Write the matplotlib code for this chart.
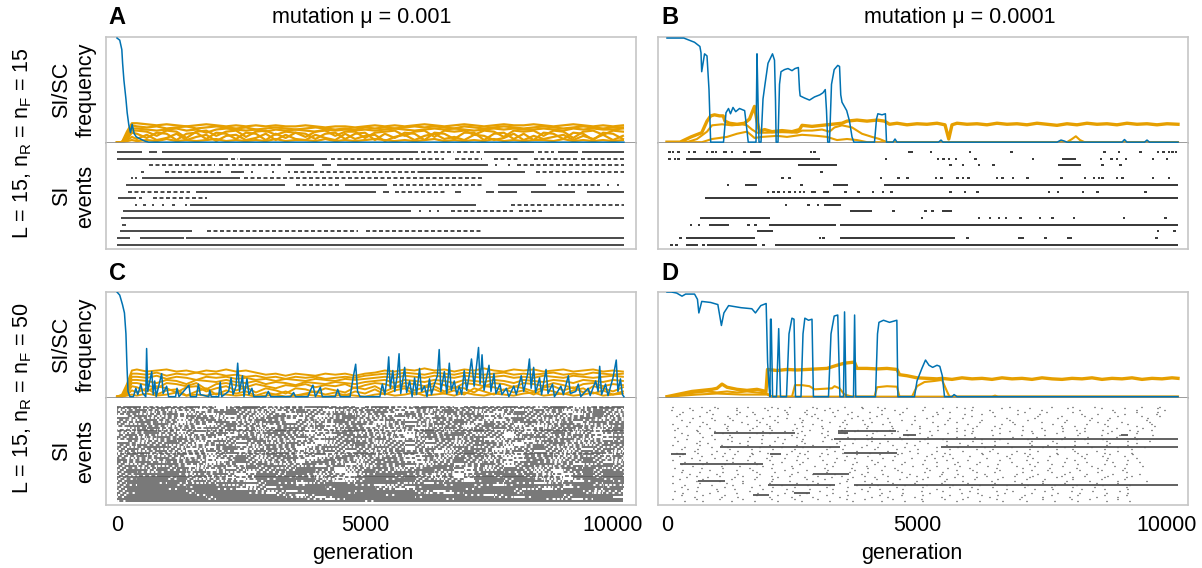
import matplotlib
matplotlib.use('Agg')
import matplotlib.pyplot as plt

plt.rcParams['font.family'] = ['Liberation Sans', 'DejaVu Sans']
plt.rcParams['mathtext.fontset'] = 'custom'
plt.rcParams['mathtext.rm'] = 'Liberation Sans'

BLUE = '#0072B2'
ORANGE = '#E69F00'
END_GEN = 10220

# ---------------- data ----------------
TICKS = [0, 5000, 10000]
TITLES = ['mutation \u03bc = 0.001', 'mutation \u03bc = 0.0001']
ROW_LABELS = [r'L = 15, n$_\mathregular{R}$ = n$_\mathregular{F}$ = 15',
              r'L = 15, n$_\mathregular{R}$ = n$_\mathregular{F}$ = 50']

GRID_AC = [0, 100, 200, 300] + list(range(400, 10201, 200))

# Panel A
A_BLUE = [(0, 0.99), (55, 0.97), (97, 0.88), (113, 0.75), (139, 0.59), (180, 0.41), (205, 0.28),
          (239, 0.16), (272, 0.09), (305, 0.17), (347, 0.08), (389, 0.05), (472, 0.03), (560, 0.01),
          (640, 0.0), (10220, 0.0)]
A_ORANGE = [
 [0, 0, 0.10, 0.18, 0.18, 0.17, 0.16, 0.17, 0.16, 0.15, 0.16, 0.17, 0.16, 0.15,
  0.16, 0.15, 0.16, 0.15, 0.16, 0.15, 0.15, 0.16, 0.15, 0.14, 0.15, 0.15, 0.14, 0.15, 0.16, 0.15, 0.16, 0.15, 0.16, 0.17,
  0.16, 0.15, 0.16, 0.17, 0.16, 0.15, 0.16, 0.17, 0.16, 0.16, 0.17, 0.16, 0.15, 0.16, 0.17, 0.16, 0.15, 0.16, 0.15, 0.16],
 [0, 0, 0.07, 0.16, 0.15, 0.14, 0.15, 0.13, 0.14, 0.15, 0.13, 0.14, 0.15, 0.14,
  0.13, 0.14, 0.12, 0.13, 0.14, 0.13, 0.12, 0.13, 0.14, 0.13, 0.12, 0.13, 0.12, 0.14, 0.13, 0.14, 0.13, 0.14, 0.15, 0.14,
  0.15, 0.14, 0.13, 0.15, 0.14, 0.13, 0.14, 0.15, 0.14, 0.13, 0.14, 0.15, 0.14, 0.13, 0.14, 0.15, 0.14, 0.13, 0.14, 0.14],
 [0, 0, 0.05, 0.13, 0.13, 0.12, 0.11, 0.12, 0.13, 0.11, 0.12, 0.09, 0.12, 0.13,
  0.12, 0.11, 0.12, 0.10, 0.12, 0.11, 0.12, 0.11, 0.10, 0.12, 0.11, 0.12, 0.11, 0.12, 0.11, 0.12, 0.13, 0.12, 0.11, 0.12,
  0.13, 0.12, 0.13, 0.12, 0.11, 0.12, 0.13, 0.12, 0.13, 0.12, 0.12, 0.13, 0.12, 0.11, 0.13, 0.12, 0.13, 0.12, 0.12, 0.13],
 [0, 0, 0.04, 0.11, 0.11, 0.10, 0.06, 0.11, 0.10, 0.04, 0.10, 0.11, 0.06, 0.10,
  0.11, 0.05, 0.10, 0.11, 0.07, 0.10, 0.09, 0.05, 0.10, 0.11, 0.06, 0.10, 0.10, 0.04, 0.09, 0.10, 0.11, 0.06, 0.10, 0.11,
  0.05, 0.11, 0.10, 0.11, 0.07, 0.11, 0.10, 0.05, 0.11, 0.10, 0.11, 0.06, 0.11, 0.10, 0.04, 0.10, 0.11, 0.07, 0.11, 0.10],
 [0, 0, 0.03, 0.09, 0.08, 0.04, 0.09, 0.08, 0.02, 0.08, 0.09, 0.03, 0.09, 0.08,
  0.03, 0.09, 0.08, 0.02, 0.08, 0.04, 0.09, 0.08, 0.03, 0.08, 0.09, 0.03, 0.08, 0.09, 0.02, 0.08, 0.04, 0.09, 0.08, 0.02,
  0.09, 0.08, 0.03, 0.09, 0.09, 0.02, 0.08, 0.09, 0.03, 0.08, 0.02, 0.09, 0.08, 0.03, 0.09, 0.08, 0.02, 0.09, 0.08, 0.03],
 [0, 0, 0.02, 0.05, 0.03, 0.07, 0.02, 0.04, 0.08, 0.02, 0.05, 0.07, 0.01, 0.06,
  0.07, 0.02, 0.04, 0.08, 0.02, 0.07, 0.03, 0.02, 0.07, 0.04, 0.02, 0.08, 0.03, 0.06, 0.07, 0.01, 0.05, 0.07, 0.02, 0.06,
  0.08, 0.03, 0.05, 0.02, 0.07, 0.06, 0.02, 0.04, 0.08, 0.02, 0.06, 0.03, 0.05, 0.07, 0.02, 0.06, 0.03, 0.07, 0.02, 0.06],
 [0, 0, 0.01, 0.02, 0.01, 0.02, 0.01, 0.03, 0.01, 0.02, 0.01, 0.02, 0.03, 0.01,
  0.02, 0.01, 0.02, 0.01, 0.03, 0.01, 0.02, 0.02, 0.01, 0.03, 0.01, 0.02, 0.01, 0.02, 0.03, 0.02, 0.01, 0.02, 0.01, 0.02,
  0.03, 0.01, 0.02, 0.01, 0.02, 0.01, 0.03, 0.01, 0.02, 0.01, 0.02, 0.02, 0.01, 0.03, 0.01, 0.02, 0.01, 0.02, 0.01, 0.02],
]
A_EVENTS = [
 "0-513 655-805 905-6062 6120-6800d 6860-7310d 7400-8400 8480-8820d 8900-9300 9380-10220",
 "0-2230 2300-2430d 2480-3300 3480-4230 4310-6600d 6814-7357d 7604-8105d 8399-9275d 9358-10220d",
 "640-1975d 2057-3309d 3392-3976 4142-4309 4434-7480 7648 7900 8064-10220d",
 "513 973-2140d 2308-2558 2725 3142 3475 3559-6062d 6062-8232 8440-10220d",
 "305 389 513-2474 2558-7397d",
 "180-3392 3600-4476d 4601-5436 5561-7397d 7690-8649 8899-9734d 9900 10109",
 "222-1474d 1599-5228 5353-5478 5603-6646d 6813-6940 7440-7607 7690-8066 8357-9233 9483-10220",
 "30-389 472 722-1807d",
 "389 556 722 931 1140 1390 1474-7230 7940-10220d",
 "122-5937 6104 6312 6479 6730-7982d 8107-8566d",
 "80-10220",
 "97-180",
 "55-1515 1807-4852d 5019-7355d",
 "0-264 472-1348 1390-10220",
 "0-10220",
]

# Panel B
B_BLUE = [(0, 0.99), (336, 0.99), (550, 0.95), (658, 0.91), (680, 0.85), (694, 0.67), (751, 0.84), (800, 0.82),
          (840, 0.5), (873, 0.0), (1130, 0.0), (1180, 0.28), (1230, 0.32), (1270, 0.27), (1320, 0.33), (1374, 0.29),
          (1450, 0.32), (1553, 0.30), (1590, 0.15), (1625, 0.0), (1780, 0.0), (1800, 0.84), (1820, 0.4), (1840, 0.0),
          (1880, 0.0), (1920, 0.41), (1960, 0.55), (2020, 0.75), (2070, 0.80), (2110, 0.84), (2150, 0.78), (2170, 0.4),
          (2183, 0.0), (2220, 0.0), (2250, 0.55), (2280, 0.67), (2350, 0.69), (2420, 0.70), (2500, 0.68), (2560, 0.70),
          (2627, 0.71), (2650, 0.5), (2663, 0.44), (2750, 0.42), (2850, 0.40), (2950, 0.43), (3057, 0.45), (3120, 0.47),
          (3165, 0.50), (3190, 0.3), (3215, 0.0), (3250, 0.0), (3290, 0.55), (3344, 0.69), (3415, 0.73), (3451, 0.72),
          (3475, 0.45), (3500, 0.38), (3594, 0.30), (3650, 0.2), (3700, 0.05), (3737, 0.0), (4150, 0.0), (4190, 0.22),
          (4217, 0.27), (4300, 0.26), (4368, 0.27), (4390, 0.0), (4520, 0.0), (4560, 0.03), (4600, 0.0), (5430, 0.0),
          (5480, 0.02), (5520, 0.0), (7800, 0.0), (7880, 0.02), (7950, 0.01), (8000, 0.0), (9100, 0.0), (9150, 0.025),
          (9200, 0.0), (9550, 0.0), (9600, 0.02), (9650, 0.0), (10220, 0.0)]
B_ORANGE = [
 [(0, 0), (260, 0), (480, 0.05), (695, 0.09), (800, 0.2), (874, 0.25), (950, 0.26), (1050, 0.25), (1124, 0.25),
  (1160, 0.2), (1250, 0.18), (1400, 0.17), (1550, 0.18), (1650, 0.22), (1750, 0.34), (1800, 0.2), (1850, 0.1),
  (1950, 0.12), (2100, 0.1), (2300, 0.11), (2500, 0.1), (2650, 0.12), (2700, 0.16), (2900, 0.15), (3100, 0.16),
  (3300, 0.17), (3500, 0.18), (3600, 0.2), (3800, 0.21), (4000, 0.2), (4200, 0.21), (4350, 0.2), (4450, 0.17),
  (4600, 0.18), (4800, 0.165), (5000, 0.175), (5200, 0.17), (5400, 0.18), (5560, 0.165), (5635, 0.03), (5700, 0.165),
  (5800, 0.18), (6000, 0.17), (6200, 0.175), (6400, 0.165), (6600, 0.18), (6800, 0.17), (7000, 0.175), (7200, 0.165),
  (7400, 0.18), (7600, 0.17), (7800, 0.16), (8000, 0.175), (8200, 0.165), (8400, 0.18), (8600, 0.17), (8800, 0.175),
  (9000, 0.165), (9200, 0.18), (9400, 0.17), (9600, 0.175), (9800, 0.165), (10000, 0.175), (10220, 0.17)],
 [(0, 0), (400, 0), (600, 0.03), (800, 0.1), (900, 0.16), (1100, 0.17), (1300, 0.16), (1500, 0.17), (1600, 0.16),
  (1700, 0.12), (1800, 0.09), (2000, 0.09), (2300, 0.095), (2600, 0.09), (2700, 0.11), (2900, 0.11), (3100, 0.12),
  (3250, 0.1), (3350, 0.14), (3500, 0.16), (3700, 0.14), (3900, 0.08), (4100, 0.05), (4250, 0.03), (4400, 0.0),
  (8000, 0.0), (8100, 0.03), (8177, 0.056), (8260, 0.02), (8350, 0.0), (10220, 0.0)],
 [(0, 0), (700, 0), (900, 0.03), (1200, 0.05), (1400, 0.08), (1600, 0.1), (1750, 0.04), (1900, 0.05), (2200, 0.06),
  (2400, 0.05), (2700, 0.07), (3000, 0.06), (3200, 0.05), (3400, 0.02), (3600, 0.03), (3800, 0.02), (4000, 0.0),
  (10220, 0.0)],
]
B_EVENTS = [
 "50 122 229 444 551 802 909 981 1124-1196 1303 1554 1661-1876 2878 2950 4812-4919 5277 6064 6888 8750 9036 9466 9824 9931 10039 10110 10182",
 "50 158 229 372-3057 4382 5420 5528 5635 5778 6172 7318 7890-8177 8678 8893 9000 9179 9716 10003",
 "2628-3401 5671 5921 6244 6530 7819-8284 8714 9072",
 "3093",
 "2306 2449 4275 4633 4776-4847 5384 5492 5814 5921 6029 6601 6709 6924 7210 7890 8356 8535 8642 8714 9000 9108 9716 10039",
 "1217 1554-1804 2685 3329-3616 4346-10217",
 "2019 2127 2234 2341 2413-2484 2556 2664 2735 2878-2986 3129-3236 3573 3831 4117 4318 4489 5671 5957 6208 7640 7819 8320 8606 9573",
 "766-10217",
 "2377 2828 3022 3143-3473",
 "3666-4096 4525 5170 5313 5506-5707",
 "659-2055 5098 6244 6458 6637 6781 7067 7461 7711 8141 9143 9967",
 "480 644 838-1232 1625 1769 2041-3380 3451-10217",
 "1804-2127 9824 10146",
 "265 372-1754 3057 3129 3451-5764 6014 7010-7139 7568 7998-8105 9788",
 "86 193 372-623 730 802-1804 1933 2162-10217",
]

# Panel C
C_BLUE = [(0, 1.0), (55, 0.97), (110, 0.88), (150, 0.80), (180, 0.6), (200, 0.3), (222, 0.05), (260, 0.0),
 (330, 0.0), (380, 0.08), (420, 0.02), (480, 0.12), (520, 0.03), (580, 0.0), (597, 0.46), (620, 0.05), (700, 0.24),
 (730, 0.02), (760, 0.15), (790, 0.0), (900, 0.22), (930, 0.03), (1000, 0.1), (1040, 0.0), (1180, 0.0), (1210, 0.08),
 (1250, 0.0), (1450, 0.11), (1480, 0.0), (1600, 0.0), (1640, 0.12), (1680, 0.02), (1850, 0.0), (1870, 0.06), (1900, 0.0),
 (2050, 0.0), (2080, 0.14), (2110, 0.0), (2250, 0.05), (2300, 0.18), (2340, 0.02), (2400, 0.1), (2433, 0.32),
 (2470, 0.05), (2530, 0.2), (2560, 0.0), (2620, 0.17), (2660, 0.02), (2720, 0.08), (2760, 0.0), (3000, 0.0),
 (3050, 0.05), (3100, 0.0), (3500, 0.0), (3560, 0.04), (3600, 0.0), (3850, 0.0), (3900, 0.06), (3950, 0.11),
 (4000, 0.0), (4100, 0.09), (4140, 0.0), (4400, 0.0), (4450, 0.07), (4500, 0.0), (4700, 0.0), (4760, 0.18),
 (4812, 0.31), (4850, 0.05), (4900, 0.0), (5300, 0.0), (5350, 0.12), (5400, 0.02), (5450, 0.2), (5478, 0.38),
 (5510, 0.08), (5560, 0.25), (5600, 0.05), (5650, 0.2), (5687, 0.41), (5720, 0.03), (5800, 0.28), (5840, 0.04),
 (5900, 0.15), (5950, 0.0), (6000, 0.18), (6040, 0.02), (6100, 0.27), (6140, 0.05), (6200, 0.1), (6250, 0.0),
 (6300, 0.17), (6340, 0.02), (6400, 0.12), (6460, 0.2), (6496, 0.45), (6530, 0.05), (6600, 0.24), (6650, 0.03),
 (6700, 0.32), (6740, 0.06), (6800, 0.15), (6850, 0.02), (6900, 0.1), (6950, 0.02), (7000, 0.25), (7050, 0.06),
 (7100, 0.2), (7147, 0.36), (7200, 0.1), (7250, 0.3), (7289, 0.47), (7320, 0.12), (7360, 0.4), (7400, 0.06),
 (7450, 0.18), (7500, 0.3), (7540, 0.05), (7600, 0.22), (7640, 0.03), (7720, 0.12), (7760, 0.02), (7850, 0.08),
 (7900, 0.0), (8000, 0.1), (8050, 0.02), (8150, 0.2), (8200, 0.05), (8280, 0.22), (8315, 0.36), (8350, 0.08),
 (8400, 0.28), (8440, 0.04), (8520, 0.18), (8560, 0.02), (8650, 0.26), (8690, 0.03), (8780, 0.12), (8820, 0.0),
 (8950, 0.1), (9000, 0.02), (9100, 0.2), (9140, 0.03), (9250, 0.05), (9300, 0.12), (9350, 0.0), (9500, 0.08),
 (9540, 0.01), (9650, 0.15), (9700, 0.05), (9732, 0.29), (9770, 0.02), (9850, 0.12), (9900, 0.01), (10000, 0.18),
 (10066, 0.35), (10100, 0.05), (10150, 0.17), (10190, 0.02), (10220, 0.0)]
C_ORANGE = [
 [0, 0.02, 0.12, 0.25, 0.26, 0.24, 0.25, 0.26, 0.24, 0.25, 0.23, 0.25, 0.24, 0.26,
  0.24, 0.25, 0.23, 0.21, 0.22, 0.20, 0.22, 0.21, 0.20, 0.22, 0.21, 0.22, 0.20, 0.22, 0.23, 0.25, 0.24, 0.26, 0.25, 0.27,
  0.25, 0.26, 0.24, 0.26, 0.25, 0.27, 0.25, 0.24, 0.26, 0.25, 0.26, 0.24, 0.25, 0.26, 0.24, 0.25, 0.26, 0.24, 0.25, 0.24],
 [0, 0.01, 0.10, 0.22, 0.22, 0.21, 0.23, 0.20, 0.22, 0.21, 0.23, 0.21, 0.22, 0.20,
  0.21, 0.19, 0.20, 0.18, 0.19, 0.17, 0.19, 0.18, 0.19, 0.17, 0.18, 0.19, 0.18, 0.20, 0.21, 0.22, 0.21, 0.23, 0.22, 0.21,
  0.23, 0.22, 0.21, 0.23, 0.22, 0.21, 0.22, 0.23, 0.21, 0.22, 0.21, 0.22, 0.23, 0.21, 0.22, 0.21, 0.23, 0.22, 0.21, 0.22],
 [0, 0.01, 0.08, 0.19, 0.19, 0.18, 0.20, 0.17, 0.19, 0.18, 0.16, 0.19, 0.18, 0.19,
  0.17, 0.18, 0.16, 0.17, 0.15, 0.17, 0.16, 0.15, 0.17, 0.16, 0.15, 0.17, 0.16, 0.17, 0.18, 0.19, 0.18, 0.20, 0.19, 0.18,
  0.20, 0.19, 0.18, 0.20, 0.19, 0.18, 0.19, 0.20, 0.18, 0.19, 0.18, 0.20, 0.19, 0.18, 0.20, 0.19, 0.18, 0.19, 0.20, 0.19],
 [0, 0.01, 0.06, 0.16, 0.16, 0.15, 0.13, 0.16, 0.15, 0.12, 0.16, 0.15, 0.14, 0.16,
  0.14, 0.13, 0.15, 0.12, 0.14, 0.13, 0.11, 0.14, 0.13, 0.12, 0.14, 0.13, 0.12, 0.14, 0.15, 0.16, 0.13, 0.16, 0.15, 0.14,
  0.16, 0.15, 0.13, 0.16, 0.15, 0.14, 0.16, 0.15, 0.13, 0.16, 0.15, 0.14, 0.16, 0.15, 0.13, 0.16, 0.15, 0.14, 0.16, 0.15],
 [0, 0.0, 0.05, 0.13, 0.13, 0.11, 0.08, 0.13, 0.12, 0.10, 0.13, 0.07, 0.12, 0.13,
  0.11, 0.09, 0.12, 0.10, 0.08, 0.11, 0.10, 0.12, 0.09, 0.11, 0.10, 0.12, 0.08, 0.11, 0.13, 0.12, 0.09, 0.13, 0.12, 0.10,
  0.13, 0.11, 0.08, 0.13, 0.12, 0.10, 0.13, 0.12, 0.09, 0.13, 0.12, 0.10, 0.13, 0.11, 0.08, 0.12, 0.13, 0.10, 0.12, 0.11],
 [0, 0, 0.03, 0.10, 0.09, 0.05, 0.10, 0.08, 0.04, 0.09, 0.10, 0.05, 0.08, 0.10,
  0.06, 0.09, 0.04, 0.08, 0.06, 0.03, 0.08, 0.07, 0.04, 0.08, 0.06, 0.04, 0.09, 0.07, 0.10, 0.05, 0.09, 0.10, 0.06, 0.09,
  0.10, 0.05, 0.09, 0.08, 0.04, 0.10, 0.09, 0.06, 0.10, 0.08, 0.05, 0.09, 0.10, 0.06, 0.09, 0.04, 0.10, 0.08, 0.05, 0.09],
 [0, 0, 0.02, 0.06, 0.04, 0.08, 0.02, 0.06, 0.07, 0.01, 0.05, 0.08, 0.02, 0.06,
  0.03, 0.05, 0.01, 0.04, 0.02, 0.05, 0.01, 0.03, 0.05, 0.02, 0.04, 0.01, 0.05, 0.03, 0.07, 0.02, 0.06, 0.08, 0.02, 0.05,
  0.07, 0.03, 0.06, 0.02, 0.08, 0.05, 0.02, 0.07, 0.04, 0.06, 0.02, 0.07, 0.05, 0.02, 0.06, 0.08, 0.03, 0.06, 0.02, 0.05],
 [0, 0, 0.01, 0.02, 0.01, 0.03, 0.01, 0.02, 0.04, 0.01, 0.02, 0.01, 0.03, 0.02,
  0.01, 0.02, 0.00, 0.01, 0.02, 0.00, 0.01, 0.02, 0.01, 0.00, 0.01, 0.02, 0.01, 0.00, 0.02, 0.03, 0.01, 0.02, 0.04, 0.01,
  0.02, 0.03, 0.01, 0.04, 0.02, 0.01, 0.03, 0.02, 0.01, 0.03, 0.04, 0.01, 0.02, 0.03, 0.01, 0.02, 0.04, 0.01, 0.02, 0.03],
]
C_BIN = 200
C_EVENTS = [
 "-#--:--#-- :-#--:--##-:- -#--:-#-- -:--#--:-#- :--#-",
 "--:-#---:- -##-:--- :-#--:-- -#-:---#--:-- -#-:--#--",
 ":-#--:-- --#-:-:--#-- :--#--- -:-#--:--- :#--:--#-:-",
 "-#-:-- :--##--:- -#--:-:--#- --:-#--:- -#--:- :-#--:",
 "--:--#-:- -#--:-- :---#-:-- -#--:--#- :-#--:-- -#-:--",
 " -#-:--#--: --:-#--- :-#-:--#-- -:--#-- :--#-:--#---",
 "#--:-- -#-:--:-#-- -:--#--:- :--#-:-- --#-:-:--#-:--",
 "-:-#--:--#- :-#-- --:-#-:--#- -:--#--: -#--:--#-:---",
 "--#-:- :--#--:-#- -:--#--- :-#-:--#- --:-#--:- -#---",
 "-:--#-:-- -#--:--#-:- --#-:-- :-#--:-#-- -:--#-:--#-",
 "-##--:-- :-#--- -:--#-:-- --:#--:-- -#--:- :--#--:--",
 " :-#--:--#-- -:--#-:- -#--:--- :-#-:--#-- -:-#--:-#-",
 "--#-:--- :-#--:-#-- --:-#-- :--#-:--#- -:--#--:- -#-",
 "-:-#-- -#--:--:-#--- :-#--:-- -#-:--#--:- --#-:--#--",
 ":--#--:- -#-:--#--: --#-:--- :-#--#-:-- -:--#-:- -#-",
 "-#--:-:--#- --:-#--:- -#--:-- :--##-:-- -#-:--#-- :--",
 "--:-#--:-- -#-:---#- :--#--:- -#--:-#-- :-#--:-- -#--",
 "-#-:--#-- :--#-:-- --#--:-#- -:--#--- :-#-:--#-:- -#-",
 " -:--#--:-#- -#--:-- :-#--:--#- --:-#-:-- -#--:--#--",
 "#-:--#-- -:-#--:-#-- :--#-:-- -#--:--#-: -:-#--:--#-",
 "--#--:-:--#- :-#--- -:--#-:--#- --:-#--: -#--:-:-#--",
 "-:-##-:-- -#--:--- :-#-:--#-- -:--#-:-- --#-:--#-:--",
 "-#--:-- :--#-:-#-- --:-#--:-- -#-:--#- :--#--:- -#--",
 "--:-#-:--#-- -#-:--:-#- -:--#--- :-#--:-#- --:-#--:-",
 ":-#--:--- -#--:-#-:-- --#-:--#-- :-#-:-- -#--:--#-:-",
 "-#-:--#--:- :--#-- -#-:--#-:-- --:-#-- :-#--:--#- -#",
 "--#-:-- -:--#-:-#--- :-#--:-- -#-:--#--: --#-:-:--#-",
 "-:--#-:-- --#-:--#- :-#-:--#-- -:-#--:- -#--:--#-:--",
 "#--:-#--:- -#-:--- :-#--:-#-- --:-#--:-- -#-:--#--:-",
 "--#-:--#- :-#--:-- -#-:-:--#-- :--#-:-- -#--:--#- :-",
 "-:-###---:-- -#-:--#--- :-#-##-:-- --#-:--##-- :-#--",
 "-#--:-- :-#--#-##-:- -#--:--- :-##---:- -#-:--#-##--",
 "--:-#-#-:-- -#--:-###- :--#-:--##-# -:-#--:--#-#-:--",
 "-##-#--:- -#-:--#-##-- :-#--:-##-# --:-##-:- -##-#--",
 "-#-:-##-#--:- ---###-- :-#--##-#-:- -##---:- --#-##-",
 "--####-:--#- -##-##-:-- :-###---:- -#-##-#-:- -#-##--",
 "-:--###-#-:- -##-#--:-- -###-#-:-- :-#-##--- -##-##-",
 "-####-#--:- --###-#-:- -####-#--:- -##-##-:-- ##-###",
 "--###-#-:--- -#-####-:- -##-##--:-- ###-##-:- -##-##",
 "-######-#-:-- -###-#-- :-#####-##-- -##-###-:- -##-#",
 "-###-#--:-####-#-- :-##-####-:- -#####-#-- :-###-##-",
 "--####-###-:- -###-#####-- :-####-##-- -#####-##-:-",
 "-######-####-:- -####-####-:- -#####-#####-:- -##-##",
 "-####-####-- :-######-####-- -#####-####-:- -###-##",
 "-######-######-:- -#####-#####-- -######-######-:--",
 "--#####-#####-- -######-######-:- -#####-######-:--",
 "-#######-#######-- -#######-#######-- -######-#####",
 "-########-#######-:- -########-#######-- -###-####",
 "#########-#########-- -##########-#########-:- -###",
 "-########################-#########################",
]

# Panel D
D_BLUE = [(0, 1.0), (86, 1.0), (193, 0.99), (300, 0.96), (372, 0.98), (551, 0.98), (609, 0.93), (637, 0.80),
 (695, 0.91), (874, 0.90), (1017, 0.88), (1088, 0.68), (1138, 0.80), (1232, 0.87), (1482, 0.85), (1697, 0.84),
 (1769, 0.80), (1876, 0.87), (1983, 0.89), (2012, 0.33), (2040, 0.1), (2060, 0.0), (2070, 0.74), (2084, 0.74),
 (2112, 0.0), (2190, 0.0), (2234, 0.65), (2270, 0.0), (2390, 0.0), (2440, 0.6), (2499, 0.75), (2540, 0.74),
 (2570, 0.0), (2680, 0.0), (2720, 0.6), (2757, 0.75), (2830, 0.73), (2900, 0.74), (2928, 0.0), (3230, 0.0),
 (3280, 0.6), (3344, 0.77), (3415, 0.78), (3458, 0.0), (3530, 0.0), (3551, 0.81), (3580, 0.0), (3730, 0.0),
 (3752, 0.78), (3775, 0.0), (4170, 0.0), (4210, 0.6), (4239, 0.71), (4330, 0.73), (4450, 0.71), (4597, 0.73),
 (4618, 0.0), (4950, 0.0), (5000, 0.15), (5098, 0.27), (5170, 0.35), (5240, 0.30), (5313, 0.28), (5400, 0.30),
 (5456, 0.29), (5506, 0.2), (5550, 0.0), (5700, 0.0), (5742, 0.02), (5800, 0.0), (10220, 0.0)]
D_ORANGE = [
 [(0, 0), (100, 0.01), (300, 0.03), (500, 0.05), (700, 0.06), (900, 0.07), (1000, 0.08), (1100, 0.12), (1200, 0.09),
  (1400, 0.07), (1600, 0.06), (1800, 0.07), (1980, 0.05), (2010, 0.26), (2200, 0.25), (2400, 0.26), (2600, 0.255),
  (2800, 0.26), (3000, 0.265), (3200, 0.27), (3400, 0.3), (3550, 0.32), (3750, 0.33), (3800, 0.27), (4000, 0.27),
  (4200, 0.265), (4400, 0.27), (4600, 0.26), (4650, 0.21), (4800, 0.2), (5000, 0.18), (5200, 0.175), (5400, 0.17),
  (5500, 0.175), (5700, 0.165), (5900, 0.18), (6100, 0.17), (6300, 0.175), (6500, 0.165), (6700, 0.18), (6900, 0.17),
  (7100, 0.175), (7300, 0.165), (7500, 0.18), (7700, 0.17), (7900, 0.165), (8100, 0.175), (8300, 0.17), (8500, 0.18),
  (8700, 0.165), (8900, 0.175), (9100, 0.17), (9300, 0.18), (9500, 0.165), (9700, 0.175), (9900, 0.17), (10100, 0.18),
  (10220, 0.175)],
 [(0, 0), (200, 0.01), (400, 0.03), (600, 0.04), (800, 0.05), (1000, 0.04), (1200, 0.05), (1400, 0.04), (1600, 0.05),
  (1800, 0.04), (2000, 0.03), (2100, 0.0), (2500, 0.0), (2560, 0.11), (2700, 0.11), (2850, 0.1), (2950, 0.07),
  (3300, 0.08), (3350, 0.1), (3450, 0.08), (3550, 0.02), (3700, 0.0), (4150, 0.0), (4200, 0.09), (4400, 0.1),
  (4600, 0.095), (4650, 0.0), (4900, 0.0), (5000, 0.1), (5150, 0.14), (5350, 0.15), (5500, 0.16), (5600, 0.05),
  (5650, 0.0), (10220, 0.0)],
 [(0, 0), (300, 0.01), (600, 0.02), (1000, 0.03), (1500, 0.02), (2000, 0.02), (2100, 0.0), (6500, 0.0), (6560, 0.01),
  (6620, 0.0), (10220, 0.0)],
]
D_BIN = 100
D_DOTS = [
 " ,    '  .      ,   '   .    ,     .  '   ,        .     '   ,      .       '    ,   .        '   .   ",
 "    .     ,  '     .  ,      '  .      ,   .   '       ,   .      '     .       ,     '    .      ,  ",
 "'    ,  .    '      ,  .   '   .  ,       '  .     ,        '   .     ,   '       .      ,   '     . ",
 "   ,   '      .  ,     '   .     ,  '   .      ,     '  .        ,     .   '     ,       .   '    ,  ",
 "  .      ,   '   .      ,  ' .      ,     '   .       ,    .  '       ,   .       '   ,    .     '  ",
 " '    .     ,  '    . ,     '    .    ,  '       .   ,      '    .        ,   '    .      ,   '   .  ",
 "     ,  '   .      ,   '  .   ,     '   .   ,      '    .  ,       '     .    ,     '   .       ,   ",
 "  '      .   ,   '   .     ,  '    .   ,      '  .      ,     '     .   ,      '    .   ,      '    ",
 "    .  ,      '   .   ,   '     .  ,    '   .        ,   '    .      ,    '    .      ,   '     .   ",
 " ,     '   .    ,  '     .   ,     '   .   ,    '      .    ,     '  .       ,     '   .    ,   '   ",
 "   '  .     ,    '  .      ,  '   .     ,   '     .   ,      '   .     ,      '  .      ,    '   . ",
 "  ,     .  '     ,  .    '     ,   .   '     ,    .      '   ,    .       '    ,   .     '     ,   ",
 " .   '      ,   .   '    ,  .     '   ,     .  '      ,    .    '      ,   .     '     ,    .   '  ",
 "      ,  .   '     ,   .  '     ,    .   '    ,     .    '   ,      .   '      ,   .    '     ,   ",
 "  '   .    ,     '  .     ,   '    .     ,  '     .     ,   '     .      ,   '    .     ,    '    ",
 "    ,   '   .      ,    '  .    ,      '   .    ,   '      .     ,    '    .      ,   '   .      ,",
 " .     ,    '   .     ,  '     .    ,   '     .     ,    '   .       ,   '     .    ,    '   .    ",
 "   '     .  ,     '    .   ,    '    .  ,     '    .   ,      '   .     ,     '    .   ,     '    ",
 "  ,   .     '   ,    .    '    ,  .     '   ,     .    '     ,   .      '    ,   .     '    ,   . ",
 "     '  ,     .   '    ,   .     '   ,    .    '    ,     .   '     ,   .    '      ,   .    '    ",
 " ,    .   '     ,   .    '   ,     .   '     ,   .     '    ,    .      '   ,    .     '    ,    ",
 "   .    '   ,     .   '    ,    .     '   ,    .     '    ,    .    '      ,   .    '     ,    . ",
 "  '   ,     .   '    ,   .     '   ,     .   '    ,     .    '   ,      .    '   ,     .    '   ",
 "     .   '    ,   .     '   ,    .   '      ,   .    '     ,    .    '    ,      .   '    ,     ",
 " '    ,    .    '   ,     .   '    ,    .     '   ,    .      '   ,    .     '    ,    .    '   ",
 "   ,    '    .   ,     '   .    ,    '    .   ,     '   .      ,    '   .     ,    '    .    ,  ",
 "  .   '    ,    .   '     ,   .    '    ,    .     '   ,    .      '    ,   .     '    ,   .    ",
 "    '    .   ,     '   .    ,    '   .     ,    '    .   ,     '    .    ,     '   .    ,    '  ",
 " ,    .    '    ,   .    '     ,   .    '    ,     .   '    ,     .    '    ,    .     '    ,   ",
 "   .   '     ,   .    '    ,     .   '    ,    .     '    ,   .     '     ,    .   '     ,    . ",
 "  '    ,   .     '   ,    .    '     ,   .    '    ,     .   '    ,     .   '     ,    .   '    ",
 "     ,    '   .    ,    '    .   ,     '   .     ,   '    .     ,    '   .     ,    '    .     ,",
 " .    '    ,    .   '    ,     .    '   ,    .     '    ,   .    '     ,    .    '    ,    .    ",
 "   ,    .    '   ,     .   '    ,    .    '   ,     .    '   ,    .     '   ,     .   '    ,    ",
 "  '   .    ,     '   .    ,    '    .   ,     '    .   ,     '   .     ,    '   .     ,    '   ",
 "    .    '    ,   .     '    ,   .    '    ,    .     '   ,    .     '    ,    .   '     ,    . ",
 " ,   '    .    ,    '   .     ,   '    .    ,    '    .    ,   '     .   ,    '    .    ,   '  ",
 "   '    ,    .   '    ,    .    '    ,   .     '    ,    .   '     ,    .    '   ,     .   '   ",
 "  .    ,    '    .   ,     '   .    ,    '    .    ,   '     .    ,    '   .     ,    '    .   ",
 "     '    .    ,    '   .    ,     '   .    ,    '     .   ,    '    .     ,   '    .     ,    '",
 " ,    .    '   ,    .    '    ,   .     '    ,   .    '     ,    .    '    ,   .     '    ,    ",
 "   .    '    ,    .   '     ,   .    '    ,    .   '     ,    .    '    ,    .   '     ,    .  ",
 "  '   ,    .    '    ,   .     '    ,   .    '     ,    .   '    ,     .    '    ,   .     '   ",
 "    ,    '   .     ,   '    .    ,    '   .    ,     '    .   ,    '     .   ,    '    .    ,  ",
 " .   '    ,     .   '    ,    .    '    ,   .     '    ,    .    '   ,     .    '    ,    .    ",
 "   ,    .    '    ,    .   '     ,   .    '    ,    .     '   ,    .    '     ,   .    '    ,  ",
 "  '    ,   .     '    ,   .    '    ,     .   '    ,    .     '   ,    .    '     ,    .   '   ",
 "     .    '   ,     .   '    ,    .     '   ,    .    '     ,   .     '    ,    .    '    ,   ",
 " ,   '    .    ,    '    .    ,    '   .     ,    '    .   ,     '    .    ,    '   .     ,   ",
 "   .   ,    '    .    ,   '     .    ,    '    .   ,     '    .    ,   '     .    ,    '    .  ",
]
D_LINES = [(13, 3415, 4575), (14, 945, 2556), (14, 3415, 3616), (15, 4725, 4976), (15, 9072, 9215),
           (17, 3344, 10217), (21, 1053, 3451), (21, 5477, 10217), (24, 3544, 4590), (25, 72, 387),
           (25, 2069, 2270), (30, 265, 1912), (35, 2914, 3644), (39, 623, 1160), (41, 2019, 3358),
           (41, 3737, 10217), (45, 2542, 2857), (46, 1718, 2041)]

# ---------------- figure ----------------
W, H = 1202, 568
fig = plt.figure(figsize=(W / 100, H / 100), dpi=100)

BOX = '#c6c6c6'
DIV = '#8a8a8a'
FS = 15.5


def px_axes(x0, y0, x1, y1):
    return fig.add_axes([x0 / W, 1 - y1 / H, (x1 - x0) / W, (y1 - y0) / H])


def style_freq(ax, xlim):
    ax.set_xlim(*xlim)
    ax.set_ylim(-0.008, 1.0)
    ax.set_xticks([])
    ax.set_yticks([])
    for s in ['top', 'left', 'right']:
        ax.spines[s].set_color(BOX)
        ax.spines[s].set_linewidth(1.2)
    ax.spines['bottom'].set_color(DIV)
    ax.spines['bottom'].set_linewidth(1.2)


def style_events(ax, xlim, nrows, hpx, ticks):
    top_m, bot_m = 9.0, 4.5
    sp = (hpx - top_m - bot_m) / (nrows - 1)
    ax.set_xlim(*xlim)
    ax.set_ylim(nrows - 1 + bot_m / sp, -top_m / sp)
    ax.set_yticks([])
    for s in ['bottom', 'left', 'right']:
        ax.spines[s].set_color(BOX)
        ax.spines[s].set_linewidth(1.2)
    ax.spines['top'].set_visible(False)
    if ticks:
        ax.set_xticks(TICKS)
        ax.set_xticklabels([str(t) for t in TICKS], fontsize=FS)
        ax.tick_params(axis='x', length=0, pad=7)
    else:
        ax.set_xticks([])


def draw_pairs(ax, pts, color, lw, z):
    ax.plot([p[0] for p in pts], [p[1] for p in pts], color=color, lw=lw, zorder=z, solid_joinstyle='round')


def draw_seg_rows(ax, rows, color, lw, dot):
    for r, s in enumerate(rows):
        for tok in s.split():
            dashed = tok.endswith('d')
            t = tok.rstrip('d')
            if '-' in t:
                a, b = (float(v) for v in t.split('-'))
                if dashed:
                    ax.hlines(r, a, b, color=color, lw=lw, linestyles=[(0, (2.2, 1.4))])
                else:
                    ax.hlines(r, a, b, color=color, lw=lw)
            else:
                x = float(t)
                ax.hlines(r, x - dot, x + dot, color=color, lw=lw)


def draw_run_rows(ax, rows, binw, color, lw):
    """'#' solid run, '-' dashed run, ':' dotted run, ' ' gap."""
    for r, s in enumerate(rows):
        off = (r * 1.37) % 3.6
        i, n = 0, len(s)
        while i < n:
            c = s[i]
            j = i
            while j < n and s[j] == c:
                j += 1
            a, b = i * binw, min(j * binw, END_GEN)
            if a < END_GEN:
                if c == '#':
                    ax.hlines(r, a, b, color=color, lw=lw)
                elif c == '-':
                    ax.hlines(r, a, b, color=color, lw=lw, linestyles=[(off, (2.4, 1.3))])
                elif c == ':':
                    ax.hlines(r, a, b, color=color, lw=lw, linestyles=[(off, (0.9, 1.6))])
            i = j


def draw_dot_rows(ax, rows, binw, color, lw, half):
    pos = {',': 0.15, '.': 0.5, "'": 0.85}
    for r, s in enumerate(rows):
        for i, c in enumerate(s):
            if c in pos:
                x = (i + pos[c]) * binw
                if x < END_GEN:
                    ax.hlines(r, x - half, x + half, color=color, lw=lw)


XL_LEFT = (-222, 10464)
XL_RIGHT = (-180, 10420)

# Panel A
axA = px_axes(106, 37, 636, 143)
style_freq(axA, XL_LEFT)
for line in A_ORANGE:
    axA.plot(GRID_AC[:len(line)], line, color=ORANGE, lw=1.6, zorder=2)
draw_pairs(axA, A_BLUE, BLUE, 1.1, 3)
axAe = px_axes(106, 143, 636, 249)
style_events(axAe, XL_LEFT, len(A_EVENTS), 106, False)
draw_seg_rows(axAe, A_EVENTS, '#3c3c3c', 1.3, 22)

# Panel B
axB = px_axes(658, 37, 1188, 143)
style_freq(axB, XL_RIGHT)
for i, line in enumerate(B_ORANGE):
    draw_pairs(axB, line, ORANGE, 2.4 if i == 0 else 1.5, 2)
draw_pairs(axB, B_BLUE, BLUE, 1.1, 3)
axBe = px_axes(658, 143, 1188, 249)
style_events(axBe, XL_RIGHT, len(B_EVENTS), 106, False)
draw_seg_rows(axBe, B_EVENTS, '#262626', 1.3, 25)

# Panel C
axC = px_axes(106, 292, 636, 397.5)
style_freq(axC, XL_LEFT)
for line in C_ORANGE:
    axC.plot(GRID_AC[:len(line)], line, color=ORANGE, lw=1.4, zorder=2)
draw_pairs(axC, C_BLUE, BLUE, 1.1, 3)
axCe = px_axes(106, 397.5, 636, 505)
style_events(axCe, XL_LEFT, len(C_EVENTS), 107.5, True)
draw_run_rows(axCe, C_EVENTS, C_BIN, '#5f5f5f', 1.2)

# Panel D
axD = px_axes(658, 292, 1188, 397.5)
style_freq(axD, XL_RIGHT)
for i, line in enumerate(D_ORANGE):
    draw_pairs(axD, line, ORANGE, 2.4 if i == 0 else 1.5, 2)
draw_pairs(axD, D_BLUE, BLUE, 1.1, 3)
axDe = px_axes(658, 397.5, 1188, 505)
style_events(axDe, XL_RIGHT, len(D_DOTS), 107.5, True)
draw_dot_rows(axDe, D_DOTS, D_BIN, '#222222', 0.9, 11)
for r, a, b in D_LINES:
    axDe.hlines(r, a, b, color='#555555', lw=1.3)


# ---------------- texts ----------------
def ftext(x, y, s, **kw):
    fig.text(x / W, 1 - y / H, s, ha='center', va='center', **kw)


for lab, (x, y) in zip('ABCD', [(117, 18), (670, 18), (117, 273), (670, 273)]):
    ftext(x, y, lab, fontsize=17, fontweight='bold')
ftext(362, 18, TITLES[0], fontsize=FS)
ftext(960, 18, TITLES[1], fontsize=FS)
ftext(74, 90, 'SI/SC\nfrequency', fontsize=FS, rotation=90, linespacing=1.2)
ftext(74, 196, 'SI\nevents', fontsize=FS, rotation=90, linespacing=1.2)
ftext(74, 345, 'SI/SC\nfrequency', fontsize=FS, rotation=90, linespacing=1.2)
ftext(74, 451, 'SI\nevents', fontsize=FS, rotation=90, linespacing=1.2)
ftext(23, 143, ROW_LABELS[0], fontsize=FS, rotation=90)
ftext(23, 398, ROW_LABELS[1], fontsize=FS, rotation=90)
ftext(363, 553, 'generation', fontsize=FS)
ftext(912, 553, 'generation', fontsize=FS)

fig.savefig('out.png', dpi=100)
